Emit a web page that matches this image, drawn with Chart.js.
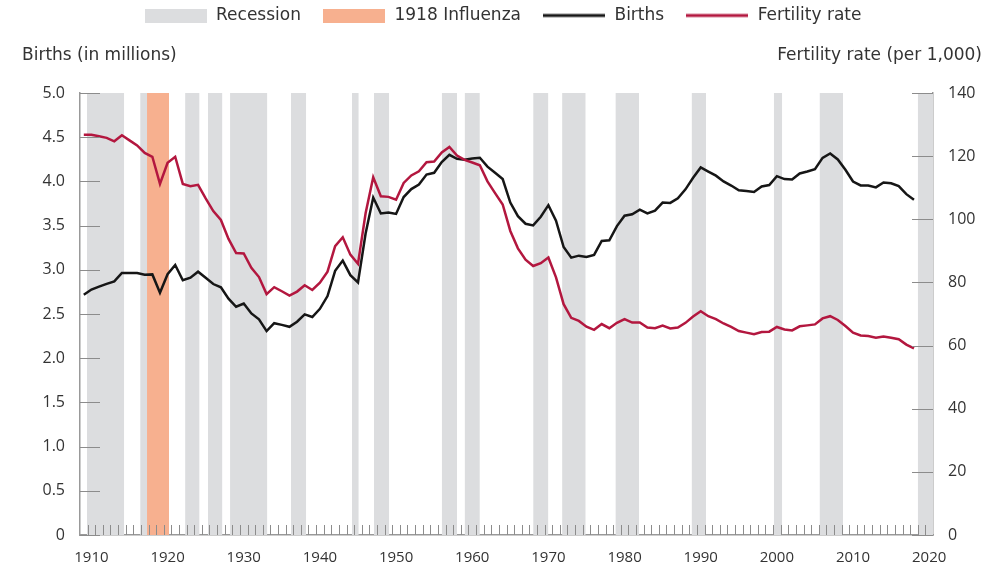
<!DOCTYPE html>
<html>
<head>
<meta charset="utf-8">
<script src="https://cdn.jsdelivr.net/npm/chart.js@4.4.0/dist/chart.umd.min.js"></script>
<style>
  html, body { margin: 0; padding: 0; background: #fff; }
  #wrap { width: 1005px; height: 570px; }
</style>
</head>
<body>
<div id="wrap"><canvas id="birthChart" width="1005" height="570"></canvas></div>
<script>
// Data, 1909 - 2018
const firstYear = 1909;
const births = [
  2.718, 2.777, 2.809, 2.840, 2.869, 2.965, 2.965, 2.964, 2.944, 2.948,
  2.740, 2.950, 3.055, 2.882, 2.910, 2.979, 2.909, 2.839, 2.802, 2.674,
  2.582, 2.618, 2.506, 2.440, 2.307, 2.396, 2.377, 2.355, 2.413, 2.496,
  2.466, 2.559, 2.703, 2.989, 3.104, 2.939, 2.858, 3.411, 3.817, 3.637,
  3.649, 3.632, 3.823, 3.913, 3.965, 4.078, 4.097, 4.218, 4.300, 4.255,
  4.245, 4.258, 4.268, 4.167, 4.098, 4.027, 3.760, 3.606, 3.521, 3.502,
  3.600, 3.731, 3.556, 3.258, 3.137, 3.160, 3.144, 3.168, 3.327, 3.333,
  3.494, 3.612, 3.629, 3.681, 3.639, 3.669, 3.761, 3.757, 3.809, 3.910,
  4.041, 4.158, 4.111, 4.065, 4.000, 3.953, 3.900, 3.891, 3.881, 3.942,
  3.959, 4.059, 4.026, 4.022, 4.090, 4.112, 4.138, 4.266, 4.316, 4.248,
  4.131, 3.999, 3.954, 3.953, 3.932, 3.988, 3.978, 3.946, 3.856, 3.792
];
const fertility = [
  126.8, 126.8, 126.3, 125.8, 124.7, 126.6, 125.0, 123.4, 121.0, 119.8,
  111.2, 117.9, 119.8, 111.2, 110.5, 110.9, 106.6, 102.6, 99.8, 93.8,
  89.3, 89.2, 84.6, 81.7, 76.3, 78.5, 77.2, 75.8, 77.1, 79.1,
  77.6, 79.9, 83.4, 91.5, 94.3, 88.8, 85.9, 101.9, 113.3, 107.3,
  107.1, 106.2, 111.5, 113.9, 115.2, 118.1, 118.3, 121.2, 122.9, 120.2,
  118.8, 118.0, 117.1, 112.0, 108.3, 104.7, 96.3, 90.8, 87.2, 85.2,
  86.1, 87.9, 81.6, 73.1, 68.8, 67.8, 66.0, 65.0, 66.8, 65.5,
  67.2, 68.4, 67.3, 67.3, 65.7, 65.5, 66.3, 65.4, 65.7, 67.2,
  69.2, 70.9, 69.3, 68.4, 67.0, 65.9, 64.6, 64.1, 63.6, 64.3,
  64.4, 65.9, 65.1, 64.8, 66.1, 66.4, 66.7, 68.6, 69.3, 68.1,
  66.2, 64.1, 63.2, 63.0, 62.5, 62.9, 62.5, 62.0, 60.3, 59.1
];
const recessionStart = [1909.4, 1916.4, 1922.3, 1925.3, 1928.2, 1936.2, 1944.2, 1947.1, 1956.0, 1959.0, 1968.0, 1971.8, 1978.8, 1988.8, 1999.6, 2005.6, 2018.5];
const recessionEnd   = [1914.3, 1917.3, 1924.2, 1927.2, 1933.1, 1938.2, 1945.1, 1949.1, 1958.0, 1961.0, 1970.0, 1974.9, 1981.9, 1990.7, 2000.7, 2008.7, 2020.5];
const influenza = [1917.3, 1920.2];
const yearLabels = [1910, 1920, 1930, 1940, 1950, 1960, 1970, 1980, 1990, 2000, 2010, 2020];
const birthTicks = [0, 0.5, 1, 1.5, 2, 2.5, 3, 3.5, 4, 4.5, 5];
const rateTicks = [0, 20, 40, 60, 80, 100, 120, 140];

const FONT = '"DejaVu Sans", sans-serif';
const TICK_FONT = '"Open Sans", sans-serif';
const TEXT = '#333333';
const GRAY = '#dcdddf';
const ORANGE = '#f7b08f';
const BLACK = '#161616';
const RED = '#b3173f';

const birthPoints = births.map((v, i) => ({ x: firstYear + i, y: v }));
const ratePoints = fertility.map((v, i) => ({ x: firstYear + i, y: v }));

function band(start, end, color) {
  return {
    data: [{ x: start, y: 5 }, { x: end, y: 5 }],
    yAxisID: 'y',
    borderWidth: 0,
    pointRadius: 0,
    backgroundColor: color,
    fill: 'origin',
    order: 3
  };
}

const datasets = [
  { label: 'Fertility rate', data: ratePoints, yAxisID: 'y1', borderColor: RED, borderWidth: 2.5, pointRadius: 0, fill: false, order: 0 },
  { label: 'Births', data: birthPoints, yAxisID: 'y', borderColor: BLACK, borderWidth: 2.5, pointRadius: 0, fill: false, order: 1 },
  band(influenza[0], influenza[1], ORANGE)
];
recessionStart.forEach((s, i) => datasets.push(band(s, recessionEnd[i], GRAY)));

// legend swatches
function swatch(color, h) {
  const c = document.createElement('canvas');
  c.width = 62; c.height = 14;
  const g = c.getContext('2d');
  g.fillStyle = color;
  g.fillRect(0, (14 - h) / 2, 62, h);
  return c;
}

const axisMarks = {
  id: 'axisMarks',
  afterDatasetsDraw(chart) {
    const { ctx, chartArea: a, scales: { x, y, y1 } } = chart;
    ctx.save();
    ctx.strokeStyle = '#8c8c8c';
    ctx.lineWidth = 1;
    ctx.beginPath();
    for (let yr = firstYear + 0.5; yr < 2020.5; yr++) {
      const px = Math.round(x.getPixelForValue(yr)) + 0.5;
      ctx.moveTo(px, a.bottom);
      ctx.lineTo(px, a.bottom - 10);
    }
    birthTicks.forEach(v => {
      const py = Math.round(y.getPixelForValue(v)) + 0.5;
      ctx.moveTo(a.left, py);
      ctx.lineTo(a.left + 20, py);
    });
    rateTicks.forEach(v => {
      const py = Math.round(y1.getPixelForValue(v)) + 0.5;
      ctx.moveTo(a.right, py);
      ctx.lineTo(a.right - 21, py);
    });
    ctx.stroke();

    // axis titles
    ctx.fillStyle = TEXT;
    ctx.font = '17px ' + FONT;
    ctx.textBaseline = 'middle';
    ctx.textAlign = 'left';
    ctx.fillText('Births (in millions)', 22, 56);
    ctx.textAlign = 'right';
    ctx.fillText('Fertility rate (per 1,000)', 982, 56);
    ctx.restore();
  }
};

const chart = new Chart(document.getElementById('birthChart'), {
  type: 'line',
  data: { datasets },
  plugins: [axisMarks],
  options: {
    responsive: false,
    animation: false,
    layout: { padding: { top: -14, left: 0, right: 0, bottom: 0 } },
    plugins: {
      tooltip: { enabled: false },
      legend: {
        position: 'top',
        onClick: null,
        labels: {
          usePointStyle: true,
          pointStyleWidth: 64,
          boxHeight: 14,
          padding: 21,
          color: TEXT,
          font: { family: FONT, size: 17 },
          generateLabels: () => [
            { text: 'Recession', pointStyle: swatch(GRAY, 14), fillStyle: GRAY, strokeStyle: 'transparent', lineWidth: 0, fontColor: TEXT },
            { text: '1918 Influenza', pointStyle: swatch(ORANGE, 14), fillStyle: ORANGE, strokeStyle: 'transparent', lineWidth: 0, fontColor: TEXT },
            { text: 'Births', pointStyle: swatch(BLACK, 3), fillStyle: BLACK, strokeStyle: 'transparent', lineWidth: 0, fontColor: TEXT },
            { text: 'Fertility rate', pointStyle: swatch(RED, 3), fillStyle: RED, strokeStyle: 'transparent', lineWidth: 0, fontColor: TEXT }
          ]
        }
      }
    },
    scales: {
      x: {
        type: 'linear',
        min: 1908.5,
        max: 2020.5,
        afterBuildTicks: s => { s.ticks = yearLabels.map(v => ({ value: v })); },
        afterFit: s => { s.height = 35; },
        grid: { display: false, drawTicks: false },
        border: { display: true, color: '#999999', width: 1.5 },
        ticks: { callback: v => String(v), color: TEXT, font: { family: TICK_FONT, size: 15 }, padding: 14, maxRotation: 0, autoSkip: false }
      },
      spacer: {
        type: 'linear',
        position: 'top',
        display: true,
        afterFit: s => { s.height = 59; },
        grid: { display: false, drawTicks: false },
        border: { display: false },
        ticks: { display: false }
      },
      y: {
        position: 'left',
        min: 0,
        max: 5,
        afterBuildTicks: s => { s.ticks = birthTicks.map(v => ({ value: v })); },
        afterFit: s => { s.width = 80; },
        grid: { display: false, drawTicks: false },
        border: { display: true, color: '#999999', width: 1.5 },
        ticks: { callback: v => (v === 0 ? '0' : v.toFixed(1)), color: TEXT, font: { family: TICK_FONT, size: 16 }, padding: 15 }
      },
      y1: {
        position: 'right',
        min: 0,
        max: 140,
        afterBuildTicks: s => { s.ticks = rateTicks.map(v => ({ value: v })); },
        afterFit: s => { s.width = 72; },
        grid: { display: false, drawTicks: false },
        border: { display: true, color: '#999999', width: 1.5 },
        ticks: { callback: v => String(v), color: TEXT, font: { family: TICK_FONT, size: 16 }, padding: 15 }
      }
    }
  }
});
</script>
</body>
</html>
